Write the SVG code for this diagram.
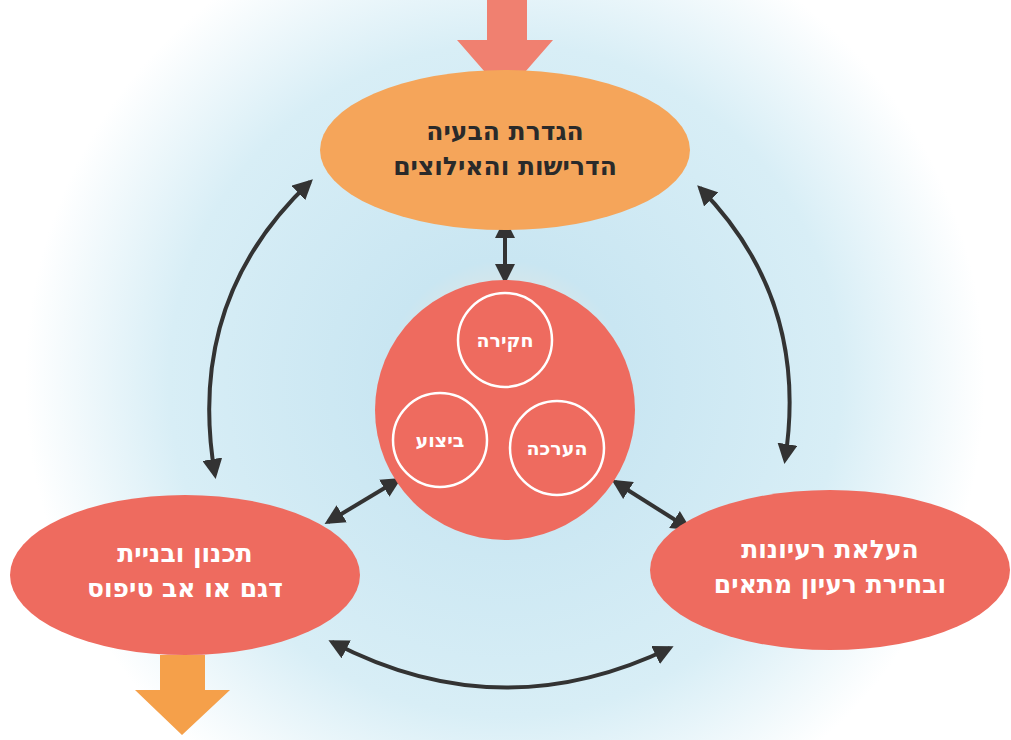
<svg xmlns="http://www.w3.org/2000/svg" width="1011" height="740" viewBox="0 0 1011 740">
<defs>
<radialGradient id="bg" cx="505" cy="380" r="480" gradientUnits="userSpaceOnUse">
<stop offset="0" stop-color="#ffe6cf"/>
<stop offset="0.25" stop-color="#c9e6f2"/>
<stop offset="0.7" stop-color="#d8eef6"/>
<stop offset="1" stop-color="#ffffff"/>
</radialGradient>
<marker id="ah" viewBox="0 0 10 10" refX="8" refY="5" markerWidth="5" markerHeight="5" orient="auto-start-reverse">
<path d="M0,0 L10,5 L0,10 z" fill="#333"/>
</marker>
<style>
.c{fill:none;stroke:#333;stroke-width:4;marker-start:url(#ah);marker-end:url(#ah)}
.t{font-family:"DejaVu Sans","Noto Sans",sans-serif;font-weight:bold;font-size:25px;text-anchor:middle}
.s{font-family:"DejaVu Sans","Noto Sans",sans-serif;font-weight:bold;font-size:19px;text-anchor:middle;fill:#fff}
.in{fill:none;stroke:#fff;stroke-width:2.5}
</style>
</defs>
<rect width="1011" height="740" fill="url(#bg)"/>
<polygon points="487,0 527,0 527,40 553,40 505,95 457,40 487,40" fill="#f08070"/>
<polygon points="160,655 205,655 205,690 230,690 182,735 135,690 160,690" fill="#f5a04a"/>
<g id="connectors">
<path class="c" d="M310,182 Q185,300 215,475"/>
<path class="c" d="M700,188 Q810,300 785,460"/>
<path class="c" d="M332,642 Q500,730 670,648"/>
<path class="c" d="M505,222 L505,280"/>
<path class="c" d="M398,480 L328,522"/>
<path class="c" d="M615,482 L688,528"/>
</g>
<g id="top">
<ellipse cx="505" cy="150" rx="185" ry="80" fill="#f5a55a"/>
<text class="t" x="505" y="140" fill="#2a2a2a">הגדרת הבעיה</text>
<text class="t" x="505" y="175" fill="#2a2a2a">הדרישות והאילוצים</text>
</g>
<g id="center">
<circle cx="505" cy="410" r="130" fill="#ee6b5f"/>
<circle class="in" cx="505" cy="340" r="47"/>
<circle class="in" cx="440" cy="440" r="47"/>
<circle class="in" cx="557" cy="448" r="47"/>
<text class="s" x="505" y="347">חקירה</text>
<text class="s" x="440" y="447">ביצוע</text>
<text class="s" x="557" y="455">הערכה</text>
</g>
<g id="left">
<ellipse cx="185" cy="575" rx="175" ry="80" fill="#ee6b5f"/>
<text class="t" x="185" y="562" fill="#fff">תכנון ובניית</text>
<text class="t" x="185" y="597" fill="#fff">דגם או אב טיפוס</text>
</g>
<g id="right">
<ellipse cx="830" cy="570" rx="180" ry="80" fill="#ee6b5f"/>
<text class="t" x="830" y="558" fill="#fff">העלאת רעיונות</text>
<text class="t" x="830" y="593" fill="#fff">ובחירת רעיון מתאים</text>
</g>
</svg>
